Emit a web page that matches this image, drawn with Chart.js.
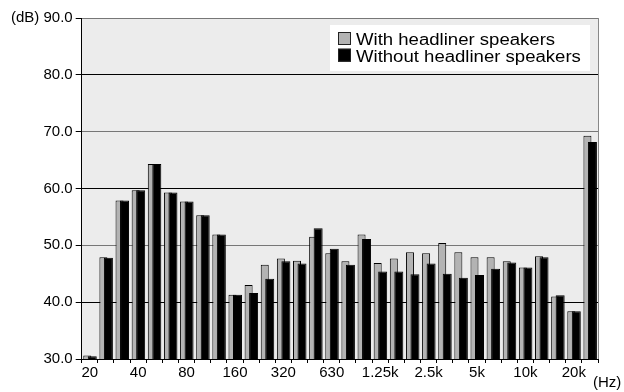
<!DOCTYPE html>
<html lang="en">
<head>
<meta charset="UTF-8">
<title>Headliner speakers</title>
<script src="https://cdn.jsdelivr.net/npm/chart.js"></script>
<style>
  html, body { margin: 0; padding: 0; background: #fff; }
  #wrap { width: 624px; height: 392px; }
</style>
</head>
<body>
<div id="wrap"><canvas id="chart"></canvas></div>
<script>
// 1/3 octave bands, last group has no label
const bands = ['20', '25', '31.5', '40', '50', '63', '80', '100', '125', '160', '200', '250',
  '320', '400', '500', '630', '800', '1k', '1.25k', '1.6k', '2k', '2.5k', '3.15k', '4k',
  '5k', '6.3k', '8k', '10k', '12.5k', '16k', '20k', ''];
const shownLabels = ['20', '40', '80', '160', '320', '630', '1.25k', '2.5k', '5k', '10k', '20k'];
const yTicks = [30, 40, 50, 60, 70, 80, 90];

const withSpeakers = [30.6, 47.9, 57.9, 59.7, 64.3, 59.3, 57.7, 55.3, 51.9, 41.3, 43.0, 46.6,
  47.7, 47.3, 51.5, 48.6, 47.2, 51.9, 46.9, 47.7, 48.8, 48.6, 50.4, 48.8,
  47.9, 47.9, 47.2, 46.1, 48.1, 41.0, 38.4, 69.3];
const withoutSpeakers = [30.5, 47.8, 57.9, 59.7, 64.3, 59.3, 57.7, 55.3, 51.9, 41.3, 41.6, 44.1,
  47.2, 46.8, 53.0, 49.4, 46.6, 51.1, 45.4, 45.4, 44.9, 46.8, 45.0, 44.3,
  44.8, 45.9, 47.0, 46.1, 47.9, 41.2, 38.4, 68.2];

const FONT = '"Liberation Sans", Arial, sans-serif';

// black bars sit on top of the gray ones
const blackOnTop = {
  id: 'blackOnTop',
  beforeDatasetDraw(chart, args) {
    if (args.index === 1) return false;
  },
  afterDatasetsDraw(chart) {
    const { ctx, chartArea: a } = chart;
    ctx.save();
    ctx.beginPath();
    ctx.rect(a.left, a.top, a.right - a.left, a.bottom - a.top);
    ctx.clip();
    chart.getDatasetMeta(1).controller.draw();
    ctx.restore();
  }
};

const extras = {
  id: 'extras',
  beforeDraw(chart) {
    const { ctx, chartArea: a } = chart;
    ctx.save();
    ctx.fillStyle = '#ececec';
    ctx.fillRect(a.left, a.top, a.right - a.left, a.bottom - a.top);
    ctx.restore();
  },
  afterDraw(chart) {
    const { ctx, chartArea: a } = chart;
    ctx.save();
    ctx.strokeStyle = '#888';
    ctx.lineWidth = 1;
    ctx.beginPath();
    ctx.moveTo(a.right + 0.5, a.top);
    ctx.lineTo(a.right + 0.5, a.bottom);
    ctx.stroke();

    // legend
    const lx = a.right - 268, ly = a.top + 7;
    ctx.fillStyle = '#fff';
    ctx.fillRect(lx, ly, 260, 46);
    ctx.font = '16px ' + FONT;
    ctx.textBaseline = 'alphabetic';
    chart.data.datasets.forEach((ds, i) => {
      const base = ly + 20 + i * 16.7;
      ctx.fillStyle = ds.backgroundColor;
      ctx.fillRect(lx + 8, base - 13, 13, 13);
      ctx.strokeStyle = '#222';
      ctx.strokeRect(lx + 8.5, base - 12.5, 12, 12);
      ctx.save();
      ctx.translate(lx + 26, base);
      ctx.scale(1.16, 1);
      ctx.fillStyle = '#000';
      ctx.fillText(ds.label, 0, 0);
      ctx.restore();
    });

    // unit of x axis
    ctx.font = '15px ' + FONT;
    ctx.fillStyle = '#000';
    ctx.fillText('(Hz)', a.right - 5, 387);
    ctx.restore();
  }
};

new Chart(document.getElementById('chart'), {
  type: 'bar',
  data: {
    labels: bands,
    datasets: [{
      label: 'With headliner speakers',
      data: withSpeakers,
      backgroundColor: '#b3b3b3',
      borderColor: '#000',
      borderWidth: 1,
      categoryPercentage: 0.62,
      barPercentage: 1.6
    }, {
      label: 'Without headliner speakers',
      data: withoutSpeakers,
      backgroundColor: '#000',
      borderColor: '#000',
      borderWidth: 1,
      categoryPercentage: 0.62,
      barPercentage: 1.8
    }]
  },
  options: {
    responsive: true,
    maintainAspectRatio: false,
    animation: false,
    layout: { padding: { left: 8, top: 18, right: 26, bottom: 9 } },
    plugins: { legend: { display: false }, tooltip: { enabled: false } },
    scales: {
      x: {
        grid: { display: true, drawOnChartArea: false, drawTicks: true, tickLength: 4, color: '#000', offset: true },
        border: { display: true, color: '#000', width: 1 },
        ticks: {
          autoSkip: false, maxRotation: 0, padding: 1,
          color: '#000', font: { family: FONT, size: 15 },
          callback: (v, i) => shownLabels.includes(bands[i]) ? bands[i] : ''
        }
      },
      y: {
        min: yTicks[0],
        max: yTicks[yTicks.length - 1],
        afterBuildTicks: (s) => { s.ticks = yTicks.map(v => ({ value: v })); },
        grid: {
          tickLength: 6,
          tickColor: '#000',
          color: (c) => [40, 60, 80].includes(c.tick.value) ? '#000' : '#777'
        },
        border: { display: true, color: '#000', width: 1 },
        ticks: {
          padding: 3, color: '#000', font: { family: FONT, size: 15 },
          callback: (v) => (v === 90 ? '(dB) ' : '') + v.toFixed(1)
        }
      }
    }
  },
  plugins: [blackOnTop, extras]
});
</script>
</body>
</html>
